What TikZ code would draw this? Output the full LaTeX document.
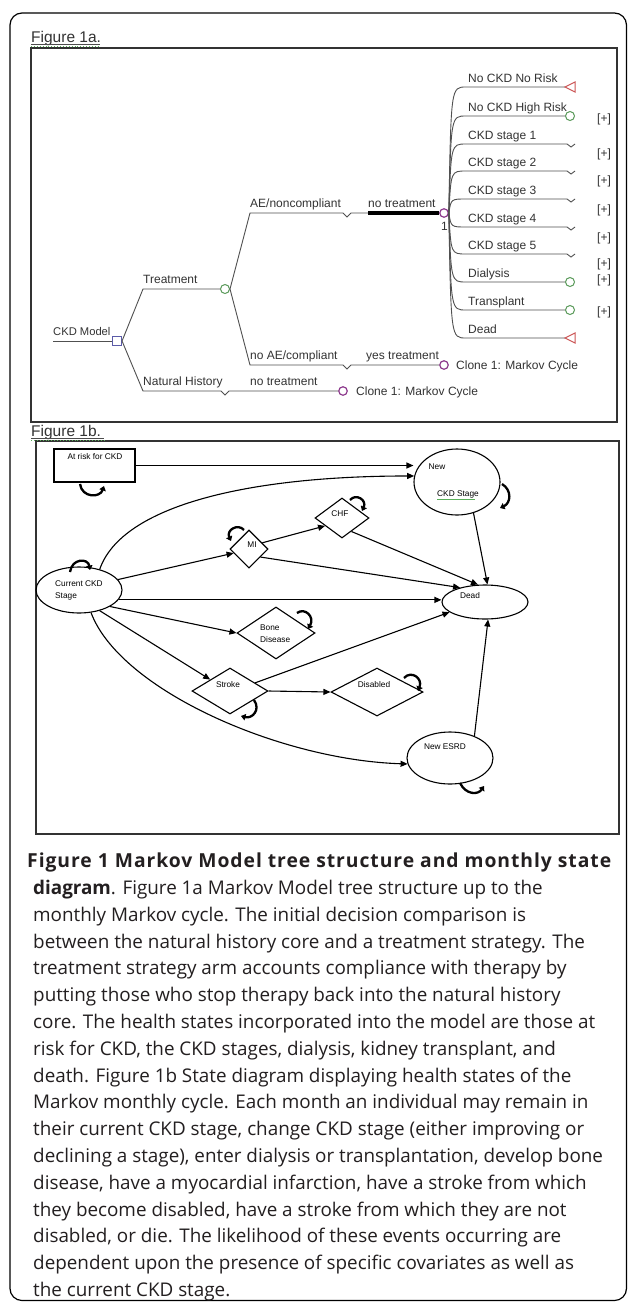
\documentclass[tikz,border=0pt]{standalone}
\usepackage{fontspec}
\setmainfont{Liberation Sans}
\newfontfamily\capfont{Open Sans}
\usetikzlibrary{shapes.geometric,arrows.meta}
\definecolor{tline}{HTML}{505050}
\definecolor{ttext}{HTML}{333333}
\definecolor{decc}{HTML}{5B5BA8}
\definecolor{chc}{HTML}{5A9A5A}
\definecolor{mkc}{HTML}{8E3C8E}
\definecolor{trc}{HTML}{CC5555}
\definecolor{capc}{HTML}{231F20}
\definecolor{spell}{HTML}{5AB05A}
\begin{document}
\begin{tikzpicture}[x=1pt,y=-1pt,
  tl/.style={draw=tline, line width=0.9},
  lab/.style={font=\fontsize{12}{13}\selectfont, text=ttext, inner sep=0, anchor=base west},
  decn/.style={draw=decc, line width=1.1, rectangle, minimum size=9pt, inner sep=0},
  chn/.style={draw=chc, line width=1.0, circle, minimum size=9pt, inner sep=0},
  mkn/.style={draw=mkc, line width=1.2, circle, minimum size=8.5pt, inner sep=0},
  trm/.style={draw=trc, line width=1.0},
  figlab/.style={font=\fontsize{15.5}{16}\selectfont, text=black!80, inner sep=0, anchor=base west},
  st/.style={draw, line width=1.1, inner sep=0},
  ell/.style={st, ellipse},
  dia/.style={st, diamond},
  tiny/.style={font=\fontsize{8.3}{9}\selectfont, inner sep=0},
  arr/.style={line width=1.1, -{Triangle[length=7pt,width=6pt]}},
  loopar/.style={line width=2.3, -{Triangle[length=4.5pt,width=6.5pt]}}
]
\useasboundingbox (0,0) rectangle (627,1304);
\fill[white] (0,0) rectangle (627,1304);
% outer frame
\draw[line width=1.2, rounded corners=12pt] (10,13) rectangle (626.5,1300.5);
% panel boxes
\draw[line width=1.3, black!80] (31,48) rectangle (617,422);
\draw[line width=1.3, black!80] (36,441) rectangle (619,834);
% figure labels
\node[figlab] (f1a) at (31,42) {Figure 1a.};
\draw[black!70, line width=0.7] (f1a.base west) ++(0,2) -- ++(69,0);
\draw[spell, line width=0.9, dotted] (f1a.base west) ++(0,4.5) -- ++(69,0);
\node[figlab] (f1b) at (31,436) {Figure 1b.};
\draw[black!70, line width=0.7] (f1b.base west) ++(0,2) -- ++(73,0);
\draw[spell, line width=0.9, dotted] (f1b.base west) ++(0,4.5) -- ++(73,0);

% ---------------- Figure 1a : tree ----------------
\coordinate (rin) at (53,341);
\node[decn] (root) at (117,341) {};
\draw[tl] (rin) -- (root.west);
\node[lab, font=\fontsize{11.2}{12}\selectfont] at (53,335) {CKD Model};
\node[chn] (treat) at (225,289) {};
\node[mkn] (nh) at (343,391) {};
\draw[tl] (root.east) -- (143,289) -- (treat.west);
\draw[tl] (root.east) -- (143,391) -- (221,391) -- (225,395) -- (229,391) -- (nh.west);
\node[lab] at (143,283) {Treatment};
\node[lab] at (143,385) {Natural History};
\node[lab] at (250,385) {no treatment};
\node[lab] at (356,395) {Clone 1: Markov Cycle};

\node[mkn] (mk1) at (444,213) {};
\node[mkn] (mk2) at (444,365) {};
\draw[tl] (treat.east) -- (250,213) -- (343,213) -- (347,217) -- (351,213) -- (mk1.west);
\draw[black, line width=3.4] (368,213) -- (mk1.west);
\draw[tl] (treat.east) -- (250,365) -- (343,365) -- (347,369) -- (351,365) -- (mk2.west);
\node[lab] at (250,207) {AE/noncompliant};
\node[lab] at (368,207) {no treatment};
\node[lab] at (441,230) {1};
\node[lab] at (250,359) {no AE/compliant};
\node[lab] at (366,359) {yes treatment};
\node[lab] at (456,369) {Clone 1: Markov Cycle};

% Markov branches
\coordinate (b1) at (565,87);
\node[chn] (b2) at (570,116) {};
\coordinate (b3) at (567,144);
\coordinate (b4) at (567,171);
\coordinate (b5) at (567,199);
\coordinate (b6) at (567,227);
\coordinate (b7) at (567,254);
\node[chn] (b8) at (570,282) {};
\node[chn] (b9) at (570,310) {};
\coordinate (b10) at (565,338);

\draw[tl] (mk1.east) .. controls (451,87) .. (466,87) -- (b1);
\draw[tl] (mk1.east) .. controls (451,116) .. (466,116) -- (b2.west);
\foreach \n/\y in {b3/144,b4/171,b5/199,b6/227,b7/254}{
  \draw[tl] (mk1.east) .. controls (451,\y) .. (466,\y) -- (\n) -- ++(4,3) -- ++(4,-3);
}
\draw[tl] (mk1.east) .. controls (451,282) .. (466,282) -- (b8.west);
\draw[tl] (mk1.east) .. controls (451,310) .. (466,310) -- (b9.west);
\draw[tl] (mk1.east) .. controls (451,338) .. (466,338) -- (b10);
\draw[trm] (b1) -- ++(10,-5) -- ++(0,10) -- cycle;
\draw[trm] (b10) -- ++(10,-5) -- ++(0,10) -- cycle;

\node[lab] at (468,82) {No CKD No Risk};
\node[lab] at (468,111) {No CKD High Risk};
\node[lab] at (468,139) {CKD stage 1};
\node[lab] at (468,166) {CKD stage 2};
\node[lab] at (468,194) {CKD stage 3};
\node[lab] at (468,222) {CKD stage 4};
\node[lab] at (468,249) {CKD stage 5};
\node[lab] at (468,277) {Dialysis};
\node[lab] at (468,305) {Transplant};
\node[lab] at (468,333) {Dead};
\foreach \y in {122,157,184,213,241,267,283,315}{
  \node[lab] at (597,\y) {[+]};
}

% ---------------- Figure 1b : state diagram ----------------
\node[st, rectangle, minimum width=81pt, minimum height=33pt] (risk) at (94.5,465.5) {};
\node[tiny] at (95,457) {At risk for CKD};
\node[ell, minimum width=86pt, minimum height=66pt] (newckd) at (457,482) {};
\node[tiny] at (437,467) {New};
\node[tiny] (ckdst) at (458,494) {CKD Stage};
\draw[spell, line width=0.8] (ckdst.south west) ++(0,1) -- ++(38,0);
\node[ell, minimum width=86pt, minimum height=46pt] (cur) at (79,590) {};
\node[tiny, anchor=west] at (55,584) {Current CKD};
\node[tiny, anchor=west] at (55,596) {Stage};
\node[dia, minimum width=38pt, minimum height=38pt] (mi) at (249,549) {};
\node[tiny] at (252,545) {MI};
\node[dia, minimum width=54pt, minimum height=40pt] (chf) at (342,518) {};
\node[tiny] at (340,514) {CHF};
\node[ell, minimum width=86pt, minimum height=34pt] (dead) at (485,602) {};
\node[tiny] at (470,596) {Dead};
\node[dia, minimum width=78pt, minimum height=52pt] (bone) at (276,633) {};
\node[tiny, anchor=west] at (260,628) {Bone};
\node[tiny, anchor=west] at (260,640) {Disease};
\node[dia, minimum width=76pt, minimum height=46pt] (stroke) at (230,691) {};
\node[tiny] at (228,685) {Stroke};
\node[dia, minimum width=92pt, minimum height=48pt] (dis) at (377,692) {};
\node[tiny] at (374,685) {Disabled};
\node[ell, minimum width=86pt, minimum height=52pt] (esrd) at (450,758) {};
\node[tiny] at (445,747) {New ESRD};

% connectors
\draw[arr] (risk.east) -- (risk.east -| newckd.west);
\draw[arr] (cur.45) .. controls (122,505) and (250,476) .. (newckd.172);
\draw[arr] (cur.15) -- (mi.195);
\draw[arr] (mi.25) -- (chf.205);
\draw[arr] (chf.-55) -- (dead.112);
\draw[arr] (newckd.-62) .. controls (480,545) .. (dead.82);
\draw[arr] (mi.-35) -- (dead.150);
\draw[arr] (cur.-14) -- (cur.-14 -| dead.west);
\draw[arr] (cur.-28) -- (bone.west);
\draw[arr] (cur.-45) -- (stroke.150);
\draw[arr] (stroke.18) -- (dead.196);
\draw[arr] (stroke.east) -- (dis.west);
\draw[arr] (cur.-62) .. controls (120,690) and (280,760) .. (esrd.188);
\draw[arr] (esrd.42) -- (dead.-80);

% self loops
\draw[loopar] (80,484) .. controls (82,498) and (100,498) .. (104,486);
\draw[loopar] (70,572) .. controls (72,558) and (88,558) .. (90,570);
\draw[loopar] (244,530) .. controls (238,523) and (226,530) .. (231,541);
\draw[loopar] (350,500) .. controls (356,493) and (367,500) .. (362,511);
\draw[loopar] (502,484) .. controls (512,490) and (511,503) .. (500,508);
\draw[loopar] (297,613) .. controls (305,607) and (315,617) .. (308,629);
\draw[loopar] (254,700) .. controls (261,710) and (252,719) .. (241,716);
\draw[loopar] (404,678) .. controls (411,670) and (423,678) .. (418,691);
\draw[loopar] (460,783) .. controls (466,795) and (478,795) .. (484,786);

% ---------------- caption ----------------
\node[anchor=base west, inner sep=0, text=capc, font=\capfont\bfseries\fontsize{19.3}{26.75}\selectfont] (cap1) at (27,867)
  {\addfontfeature{LetterSpace=5}Figure 1 Markov Model tree structure and monthly state};
\node[anchor=north west, inner sep=0, align=left, text=capc, font=\capfont\fontsize{18.85}{26.8}\selectfont] (cap2) at (33,880)
  {{\bfseries diagram}. Figure 1a Markov Model tree structure up to the\\
  monthly Markov cycle. The initial decision comparison is\\
  between the natural history core and a treatment strategy. The\\
  treatment strategy arm accounts compliance with therapy by\\
  putting those who stop therapy back into the natural history\\
  core. The health states incorporated into the model are those at\\
  risk for CKD, the CKD stages, dialysis, kidney transplant, and\\
  death. Figure 1b State diagram displaying health states of the\\
  Markov monthly cycle. Each month an individual may remain in\\
  their current CKD stage, change CKD stage (either improving or\\
  declining a stage), enter dialysis or transplantation, develop bone\\
  disease, have a myocardial infarction, have a stroke from which\\
  they become disabled, have a stroke from which they are not\\
  disabled, or die. The likelihood of these events occurring are\\
  dependent upon the presence of specific covariates as well as\\
  the current CKD stage.};
\end{tikzpicture}
\end{document}
